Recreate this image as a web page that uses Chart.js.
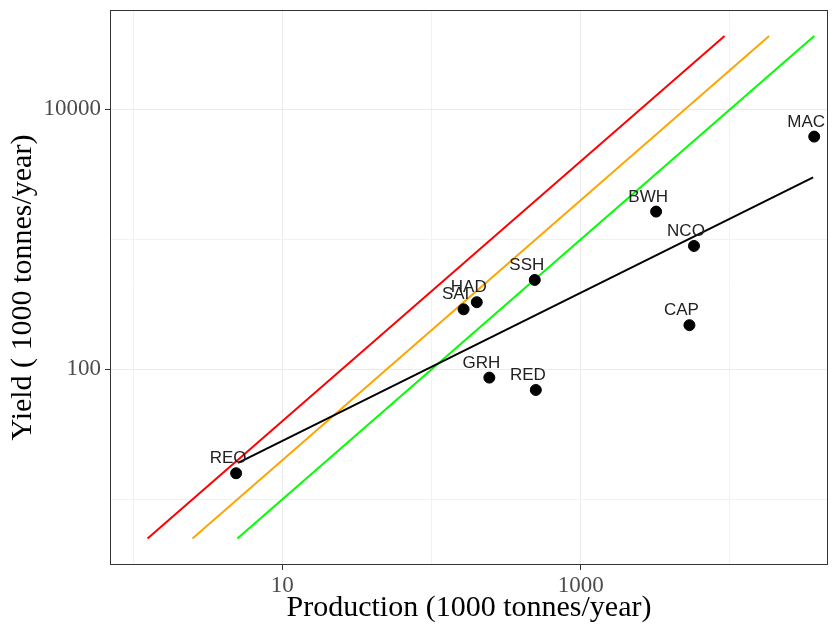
<!DOCTYPE html>
<html>
<head>
<meta charset="utf-8">
<script src="https://cdn.jsdelivr.net/npm/chart.js@4.4.0/dist/chart.umd.min.js"></script>
<style>
  html, body { margin: 0; padding: 0; background: #fff; }
  #wrap { width: 837px; height: 626px; }
</style>
</head>
<body>
<div id="wrap"><canvas id="chart"></canvas></div>
<script>
// stocks (codes, production, yield)
const stocks = ["REO", "SAI", "HAD", "SSH", "GRH", "RED", "BWH", "NCO", "CAP", "MAC"];
const production = [4.9, 164, 201, 492, 244, 500, 3200, 5740, 5350, 36700];
const yieldVals = [15.9, 290, 329, 488, 86.5, 69.5, 1637, 891, 219, 6180];

// reference lines y = 4x, y = 2x, y = x
const redLineX = [1.25, 9200];
const redLineY = [5, 36700];
const orangeLineX = [2.5, 18300];
const orangeLineY = [5, 36700];
const greenLineX = [5, 36700];
const greenLineY = [5, 36700];

// fitted line
const fitX = [5.05, 36100];
const fitY = [19.1, 3006];

// axis ticks
const xGrid = [1, 10, 100, 1000, 10000];
const xLabels = [10, 1000];
const yGrid = [10, 100, 1000, 10000];
const yLabels = [100, 10000];

function pairs(xs, ys) {
  return xs.map(function (x, i) { return { x: x, y: ys[i] }; });
}

function lineSet(xs, ys, color) {
  return {
    type: "scatter",
    data: pairs(xs, ys),
    showLine: true,
    borderColor: color,
    borderWidth: 2,
    pointRadius: 0,
    fill: false
  };
}

const boxPlugin = {
  id: "box",
  afterDraw: function (chart) {
    const a = chart.chartArea;
    const ctx = chart.ctx;
    ctx.save();
    ctx.strokeStyle = "#333333";
    ctx.lineWidth = 1;
    ctx.strokeRect(a.left + 0.5, a.top + 0.5, a.right - a.left - 1, a.bottom - a.top - 1);
    ctx.restore();
  }
};

const labelPlugin = {
  id: "pointLabels",
  afterDatasetsDraw: function (chart) {
    const ctx = chart.ctx;
    const xs = chart.scales.x;
    const ys = chart.scales.y;
    ctx.save();
    ctx.font = "17px 'Liberation Sans', Arial, sans-serif";
    ctx.fillStyle = "#222222";
    ctx.textAlign = "center";
    ctx.textBaseline = "alphabetic";
    stocks.forEach(function (s, i) {
      const px = xs.getPixelForValue(production[i]);
      const py = ys.getPixelForValue(yieldVals[i]);
      ctx.fillText(s, px - 8, py - 10);
    });
    ctx.restore();
  }
};

const ctx = document.getElementById("chart").getContext("2d");
const chart = new Chart(ctx, {
  type: "scatter",
  data: {
    datasets: [
      {
        data: pairs(production, yieldVals),
        backgroundColor: "#000000",
        borderColor: "#000000",
        pointRadius: 5.5,
        pointHoverRadius: 5.5
      },
      lineSet(fitX, fitY, "#000000"),
      lineSet(redLineX, redLineY, "#FF0000"),
      lineSet(orangeLineX, orangeLineY, "#FFA500"),
      lineSet(greenLineX, greenLineY, "#00FF00")
    ]
  },
  options: {
    responsive: true,
    maintainAspectRatio: false,
    animation: false,
    layout: { padding: { left: 0, right: 9, top: 10, bottom: 0 } },
    plugins: {
      legend: { display: false },
      tooltip: { enabled: false }
    },
    scales: {
      x: {
        type: "logarithmic",
        min: 0.747,
        max: 45400,
        afterBuildTicks: function (scale) {
          scale.ticks = xGrid.map(function (v) { return { value: v }; });
        },
        afterFit: function (scale) {
          scale.height = 61;
          scale.paddingLeft = 0;
          scale.paddingRight = 0;
        },
        border: { display: false },
        grid: {
          color: function (c) { return xLabels.indexOf(c.tick && c.tick.value) >= 0 ? "#ebebeb" : "#f2f2f2"; },
          tickColor: function (c) { return xLabels.indexOf(c.tick && c.tick.value) >= 0 ? "#333333" : "rgba(0,0,0,0)"; },
          tickLength: 5
        },
        ticks: {
          autoSkip: false,
          maxRotation: 0,
          padding: 2,
          color: "#4d4d4d",
          font: { family: "'Liberation Serif', 'Times New Roman', serif", size: 23 },
          callback: function (v) { return xLabels.indexOf(v) >= 0 ? String(v) : ""; }
        },
        title: {
          display: true,
          text: "Production (1000 tonnes/year)",
          color: "#000000",
          font: { family: "'Liberation Serif', 'Times New Roman', serif", size: 30 },
          padding: { top: 0, bottom: 0 }
        }
      },
      y: {
        type: "logarithmic",
        min: 3.13,
        max: 58200,
        afterBuildTicks: function (scale) {
          scale.ticks = yGrid.map(function (v) { return { value: v }; });
        },
        afterFit: function (scale) {
          scale.width = 110;
          scale.paddingTop = 0;
          scale.paddingBottom = 0;
        },
        border: { display: false },
        grid: {
          color: function (c) { return yLabels.indexOf(c.tick && c.tick.value) >= 0 ? "#ebebeb" : "#f2f2f2"; },
          tickColor: function (c) { return yLabels.indexOf(c.tick && c.tick.value) >= 0 ? "#333333" : "rgba(0,0,0,0)"; },
          tickLength: 5
        },
        ticks: {
          autoSkip: false,
          padding: 4,
          color: "#4d4d4d",
          font: { family: "'Liberation Serif', 'Times New Roman', serif", size: 23 },
          callback: function (v) { return yLabels.indexOf(v) >= 0 ? String(v) : ""; }
        },
        title: {
          display: true,
          text: "Yield ( 1000 tonnes/year)",
          color: "#000000",
          font: { family: "'Liberation Serif', 'Times New Roman', serif", size: 30 },
          padding: { top: 5, bottom: 0 }
        }
      }
    }
  },
  plugins: [boxPlugin, labelPlugin]
});
</script>
</body>
</html>
